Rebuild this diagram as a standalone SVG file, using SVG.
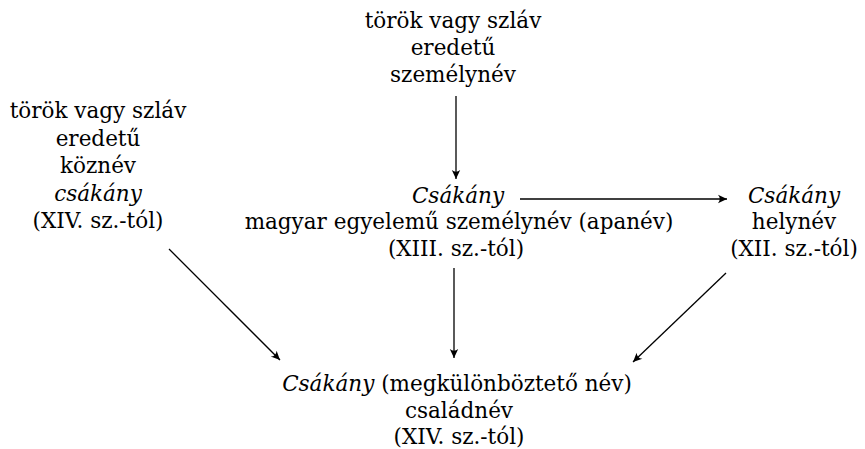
<svg xmlns="http://www.w3.org/2000/svg" width="865" height="449" viewBox="0 0 865 449">
<defs>
<style>
text{font-family:"DejaVu Serif","Liberation Serif",serif;font-size:21.5px;fill:#000;text-anchor:middle}
.i{font-style:italic}
.c{stroke:#000;stroke-width:1.3;fill:none;marker-end:url(#ah)}
</style>
<marker id="ah" viewBox="-10 -5 11 10" refX="0" refY="0" markerWidth="11" markerHeight="10" markerUnits="userSpaceOnUse" orient="auto">
<path d="M0,0 L-9,-4.2 Q-5.5,0 -9,4.2 Z" fill="#000"/>
</marker>
</defs>
<rect width="865" height="449" fill="#fff"/>
<g id="top">
<text x="453" y="28">török vagy szláv</text>
<text x="453" y="55">eredetű</text>
<text x="453" y="82">személynév</text>
</g>
<g id="left">
<text x="98" y="118">török vagy szláv</text>
<text x="98" y="145.5">eredetű</text>
<text x="98" y="173">köznév</text>
<text x="98" y="200.5" class="i">csákány</text>
<text x="98" y="228">(XIV. sz.-tól)</text>
</g>
<g id="middle">
<text x="458" y="203" class="i">Csákány</text>
<text x="459" y="229">magyar egyelemű személynév (apanév)</text>
<text x="456" y="256">(XIII. sz.-tól)</text>
</g>
<g id="right">
<text x="794" y="203" class="i">Csákány</text>
<text x="794" y="229">helynév</text>
<text x="794" y="256">(XII. sz.-tól)</text>
</g>
<g id="bottom">
<text x="457" y="391"><tspan class="i">Csákány</tspan> (megkülönböztető név)</text>
<text x="459" y="418">családnév</text>
<text x="459" y="444">(XIV. sz.-tól)</text>
</g>
<g id="connectors">
<line class="c" x1="456" y1="96" x2="456" y2="179"/>
<line class="c" x1="520" y1="199" x2="727" y2="199"/>
<line class="c" x1="454" y1="268" x2="454" y2="358"/>
<line class="c" x1="169" y1="249" x2="280" y2="360"/>
<line class="c" x1="726" y1="273" x2="633" y2="362"/>
</g>
</svg>
